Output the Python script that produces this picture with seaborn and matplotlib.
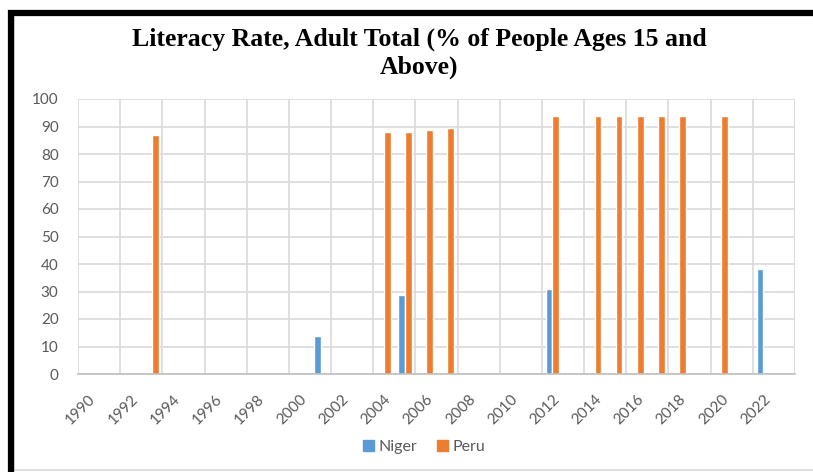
import matplotlib
matplotlib.use("Agg")
import matplotlib.pyplot as plt
import seaborn as sns
import pandas as pd
import numpy as np
from matplotlib.patches import Rectangle
from matplotlib.lines import Line2D

# ---- data ----
years = list(range(1990, 2024))
niger_years = [2001, 2005, 2012, 2022]
niger_vals = [13.9, 28.8, 30.9, 38.1]
peru_years = [1993, 2004, 2005, 2006, 2007, 2012, 2014, 2015, 2016, 2017, 2018, 2020]
peru_vals = [87.0, 87.9, 87.9, 88.7, 89.6, 94.0, 94.0, 94.0, 94.0, 94.0, 94.0, 94.0]
countries = ["Niger", "Peru"]
colors = ["#5B9BD5", "#ED7D31"]
title = "Literacy Rate, Adult Total (% of People Ages 15 and\nAbove)"

rows = [{"Year": str(y), "Country": "Niger", "Value": v} for y, v in zip(niger_years, niger_vals)]
rows += [{"Year": str(y), "Country": "Peru", "Value": v} for y, v in zip(peru_years, peru_vals)]
df = pd.DataFrame(rows)

sns.set_theme(style="white")
plt.rcParams["font.family"] = ["Lato", "DejaVu Sans"]

W, H = 813, 472
fig = plt.figure(figsize=(W / 100, H / 100), dpi=100)
fig.patch.set_facecolor("white")
ax = fig.add_axes([78 / W, 1 - 374 / H, (795 - 78) / W, (374 - 99) / H])

order = [str(y) for y in years]
sns.barplot(data=df, x="Year", y="Value", hue="Country", order=order,
            hue_order=countries, palette=colors, width=0.64, ax=ax,
            legend=False, errorbar=None, saturation=1)

grid_c = "#d9d9d9"
ax.set_xlim(-0.5, len(years) - 0.5)
ax.set_ylim(0, 100)
ax.set_yticks(np.arange(0, 101, 10))
ax.yaxis.grid(True, color=grid_c, linewidth=1.2)
ax.set_axisbelow(True)
# vertical gridlines every 2 categories
for xb in np.arange(-0.5, len(years), 2):
    ax.axvline(xb, color=grid_c, linewidth=1.2, zorder=0)
ax.axvline(len(years) - 0.5, color=grid_c, linewidth=1.2, zorder=0)

for s in ["top", "right", "left"]:
    ax.spines[s].set_visible(False)
ax.spines["bottom"].set_color("#bfbfbf")
ax.spines["bottom"].set_linewidth(1.2)

lab_pos = list(range(0, len(years), 2))
ax.set_xticks(lab_pos)
ax.set_xticklabels([order[i] for i in lab_pos], rotation=45, ha="right",
                   rotation_mode="anchor", fontsize=11, color="#595959")
ax.tick_params(axis="x", which="major", length=0, pad=13)
ax.set_xticks(np.arange(-0.5, len(years), 1), minor=True)
ax.tick_params(axis="x", which="minor", length=4, width=1.2, color="#bfbfbf", direction="out")
ax.tick_params(axis="y", length=0, pad=14, labelsize=11, labelcolor="#595959")
ax.set_xlabel("")
ax.set_ylabel("")

fig.text(419 / W, 1 - 53 / H, title, ha="center", va="center",
         fontsize=18.5, fontweight="bold", family="Liberation Serif",
         color="#000000", linespacing=1.25)

handles = [Rectangle((0, 0), 1, 1, color=c) for c in colors]
fig.legend(handles, countries, loc="center", bbox_to_anchor=(424 / W, 1 - 447 / H),
           ncol=2, frameon=False, fontsize=11.5, labelcolor="#595959",
           handlelength=0.7, handleheight=0.7, handletextpad=0.3, columnspacing=1.2)

# chart frame and black border
fig.add_artist(Rectangle((14 / W, 1 - 470 / H), (W + 5 - 14) / W, (470 - 15) / H,
                         transform=fig.transFigure, fill=False, edgecolor="#d9d9d9",
                         linewidth=1.2))
fig.add_artist(Line2D([8 / W, 1.0], [1 - 12.5 / H, 1 - 12.5 / H],
                      transform=fig.transFigure, color="black", linewidth=4.5,
                      solid_capstyle="butt"))
fig.add_artist(Line2D([11 / W, 11 / W], [1 - 10 / H, 0.0],
                      transform=fig.transFigure, color="black", linewidth=4.5,
                      solid_capstyle="butt"))

fig.savefig("out.png", dpi=100)
